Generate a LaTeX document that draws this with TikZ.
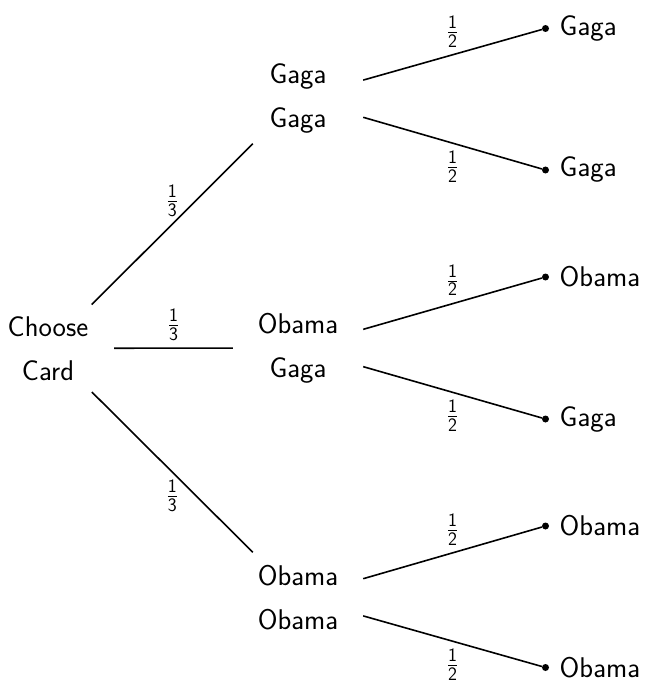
\documentclass[tikz,border=0pt]{standalone}
\usepackage{amsmath}
\newcommand{\dg}[1]{\hbox{\sffamily\fontsize{19}{19}\selectfont #1}}
\newcommand{\pr}[2]{$\frac{\dg{#1}}{\dg{#2}}$}
\begin{document}
\begin{tikzpicture}[x=1pt,y=-1pt,
  every node/.style={font=\sffamily\fontsize{28.5}{44}\selectfont},
  rootnode/.style={minimum width=132, minimum height=87, align=center, inner sep=0},
  midnode/.style={minimum width=130, minimum height=90, align=center, inner sep=0},
  leafdot/.style={circle, fill=black, inner sep=0, minimum size=7},
  leaftext/.style={anchor=west},
  branch/.style={line width=1.6pt},
  prob/.style={inner sep=7}
]
\useasboundingbox (0,0) rectangle (646,687);
\node[rootnode] (root) at (48,348.3) {Choose\\Card};
\node[midnode] (c1) at (298,98.5) {Gaga\\Gaga};
\node[midnode] (c2) at (298,348) {Obama\\Gaga};
\node[midnode] (c3) at (298,597.5) {Obama\\Obama};
\node[leafdot] (d1) at (545.5,28.5) {};
\node[leafdot] (d2) at (545.5,170) {};
\node[leafdot] (d3) at (545.5,277) {};
\node[leafdot] (d4) at (545.5,419) {};
\node[leafdot] (d5) at (545.5,526) {};
\node[leafdot] (d6) at (545.5,667.5) {};
\node[leaftext] (t1) at ([xshift=7]d1.east) {Gaga};
\node[leaftext] (t2) at ([xshift=7]d2.east) {Gaga};
\node[leaftext] (t3) at ([xshift=7]d3.east) {Obama};
\node[leaftext] (t4) at ([xshift=7]d4.east) {Gaga};
\node[leaftext] (t5) at ([xshift=7]d5.east) {Obama};
\node[leaftext] (t6) at ([xshift=7]d6.east) {Obama};
\draw[branch] (root) -- node[prob, above] (p1) {\pr{1}{3}} (c1);
\draw[branch] (root) -- node[prob, above] (p2) {\pr{1}{3}} (c2);
\draw[branch] (root) -- node[prob, below] (p3) {\pr{1}{3}} (c3);
\draw[branch] (c1) -- node[prob, above] (q1) {\pr{1}{2}} (d1);
\draw[branch] (c1) -- node[prob, below] (q2) {\pr{1}{2}} (d2);
\draw[branch] (c2) -- node[prob, above] (q3) {\pr{1}{2}} (d3);
\draw[branch] (c2) -- node[prob, below] (q4) {\pr{1}{2}} (d4);
\draw[branch] (c3) -- node[prob, above] (q5) {\pr{1}{2}} (d5);
\draw[branch] (c3) -- node[prob, below] (q6) {\pr{1}{2}} (d6);
\end{tikzpicture}
\end{document}
